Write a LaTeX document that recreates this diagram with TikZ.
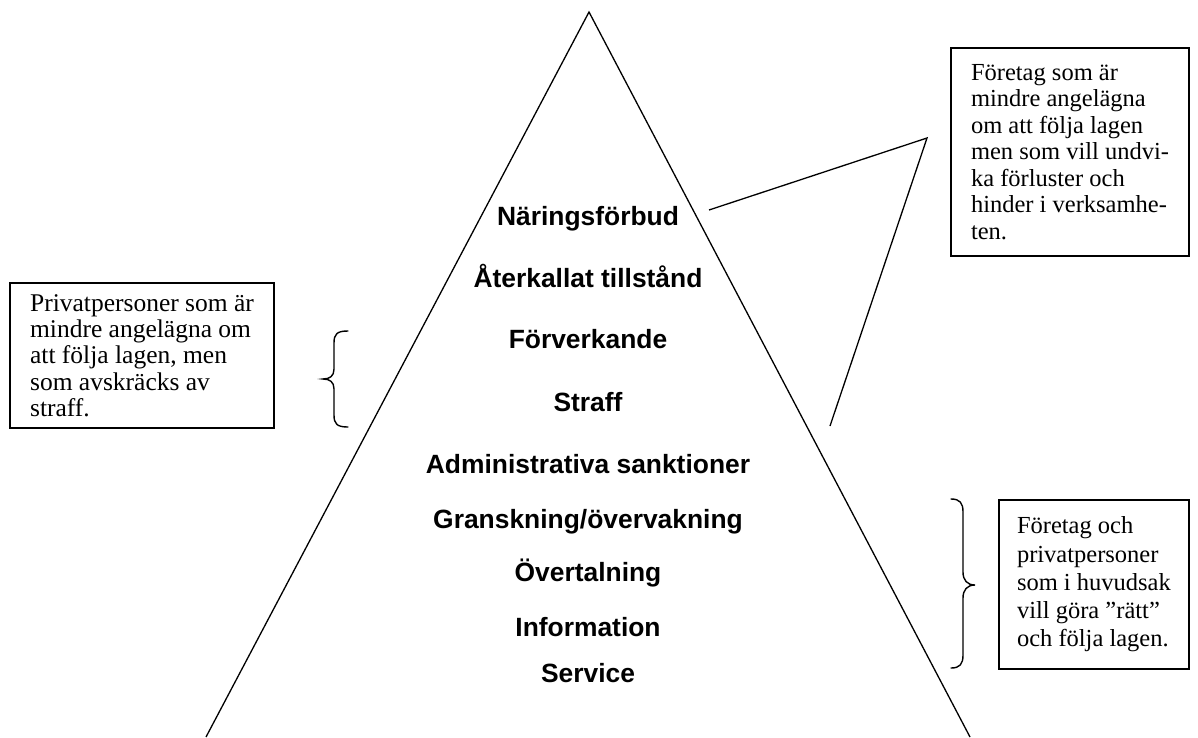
\documentclass[tikz,border=0pt]{standalone}
\usepackage{fontspec}
\setmainfont{Liberation Serif}
\newfontfamily\labelfont{Liberation Sans}
\usetikzlibrary{positioning}

\begin{document}
\begin{tikzpicture}[x=1pt, y=-1pt,
    lvl/.style={anchor=base, inner sep=0pt, font=\labelfont\bfseries\fontsize{26.4}{30}\selectfont},
    note/.style={draw, line width=1.6pt, anchor=north west, align=left, inner ysep=0pt, outer sep=0pt},
    brace/.style={line width=1.4pt, line cap=round}]
  \useasboundingbox (0,0) rectangle (1198,737);

  % the pyramid, open at the foot
  \draw[line width=1.3pt] (206,737) -- (589,12) -- (970,737);

  % steps, from the top down
  \node[lvl] (naring)  at (588,225) {Näringsförbud};
  \node[lvl] (aterk)   at (588,287) {Återkallat tillstånd};
  \node[lvl] (forverk) at (588,348) {Förverkande};
  \node[lvl] (straff)  at (588,411) {Straff};
  \node[lvl] (admin)   at (588,473) {Administrativa sanktioner};
  \node[lvl] (gransk)  at (588,528) {Granskning/övervakning};
  \node[lvl] (overt)   at (588,581) {Övertalning};
  \node[lvl] (info)    at (588,636) {Information};
  \node[lvl] (service) at (588,682) {Service};

  % comment boxes
  \node[note, inner xsep=20pt, minimum width=264pt, minimum height=145pt,
        font=\fontsize{25.5}{26.3}\selectfont] (privat) at (10,283)
    {Privatpersoner som är\\mindre angelägna om\\att följa lagen, men\\som avskräcks av\\straff.};
  \node[note, inner xsep=20pt, minimum height=208pt,
        font=\fontsize{24.5}{26.5}\selectfont] (foretag) at (951,48)
    {Företag som är\\mindre angelägna\\om att följa lagen\\men som vill undvi-\\ka förluster och\\hinder i verksamhe-\\ten.};
  \node[note, inner xsep=18pt, minimum height=169pt,
        font=\fontsize{24.5}{28.2}\selectfont] (alla) at (999,500)
    {Företag och\\privatpersoner\\som i huvudsak\\vill göra ”rätt”\\och följa lagen.};

  % wedge from the top steps to the firms' box
  \coordinate (w1) at (709,210);
  \coordinate (w2) at (927,138);
  \coordinate (w3) at (830,426);
  \draw[line width=1.3pt] (w1) -- (w2) -- (w3);

  % braces
  \draw[brace] (348,331) .. controls (337,331) and (334,334) .. (334,343) -- (334,369)
    .. controls (334,376) and (330,379) .. (323,379)
    .. controls (330,379) and (334,382) .. (334,389) -- (334,415)
    .. controls (334,424) and (337,427) .. (348,427);
  \draw[brace] (951,499) .. controls (960,499) and (963,503) .. (963,512) -- (963,572)
    .. controls (963,580) and (967,585) .. (975,585)
    .. controls (967,585) and (963,590) .. (963,598) -- (963,655)
    .. controls (963,664) and (960,668) .. (951,668);
\end{tikzpicture}
\end{document}
